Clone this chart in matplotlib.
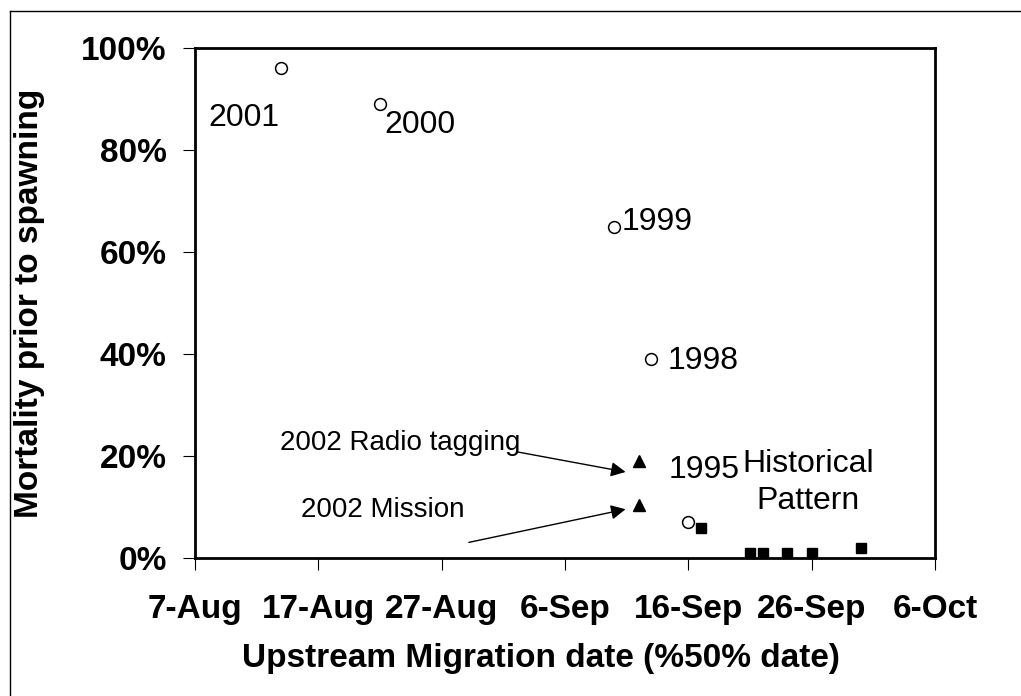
"""Pre-spawn mortality vs upstream migration date (50% date)."""
import pandas as pd
import matplotlib
matplotlib.use("Agg")
import matplotlib.pyplot as plt
from matplotlib.lines import Line2D

plt.rcParams["font.family"] = ["Liberation Sans", "DejaVu Sans"]

YEAR = "2002"

# open circles: individual years
circle_years = ["2001", "2000", "1999", "1998", "1995"]
circle_dates = ["14-Aug", "22-Aug", "10-Sep", "13-Sep", "16-Sep"]
circle_mort = [96, 89, 65, 39, 7]

# filled triangles: 2002 estimates
tri_labels = ["2002 Radio tagging", "2002 Mission"]
tri_dates = ["12-Sep", "12-Sep"]
tri_mort = [19, 10.5]

# filled squares: historical pattern
hist_dates = ["17-Sep", "21-Sep", "22-Sep", "24-Sep", "26-Sep", "30-Sep"]
hist_mort = [6, 1, 1, 1, 1, 2]

tick_dates = ["7-Aug", "17-Aug", "27-Aug", "6-Sep", "16-Sep", "26-Sep", "6-Oct"]
y_ticks = [0, 20, 40, 60, 80, 100]


def to_dt(labels):
    return pd.to_datetime([f"{d}-{YEAR}" for d in labels], format="%d-%b-%Y")


def main():
    fig = plt.figure(figsize=(10.21, 6.96), dpi=100)
    ax = fig.add_axes([0.191, 0.198, 0.725, 0.733])

    cx, tx, hx = to_dt(circle_dates), to_dt(tri_dates), to_dt(hist_dates)
    ax.plot(cx, circle_mort, "o", ls="none", mfc="white", mec="black", ms=8.5, mew=1.1,
            clip_on=False, zorder=3)
    ax.plot(tx, tri_mort, "^", ls="none", color="black", ms=8.5, clip_on=False, zorder=3)
    ax.plot(hx, hist_mort, "s", ls="none", color="black", ms=7, clip_on=False, zorder=3)

    # year labels, offsets in points from their circle
    offsets = {"2001": (-27, -36), "2000": (29, -15), "1999": (31, 3),
               "1998": (37, -1), "1995": (11, 38)}
    for yr, x, y in zip(circle_years, cx, circle_mort):
        ax.annotate(yr, (x, y), xytext=offsets[yr], textcoords="offset points",
                    ha="center", va="center", fontsize=23)

    d0 = pd.Timestamp("2002-08-07")
    day = lambda n: d0 + pd.Timedelta(days=n)

    ax.text(day(49.7), 14.8, "Historical\nPattern", ha="center", va="center",
            fontsize=23, linespacing=1.3)

    # 2002 labels with arrows
    ax.text(day(16.6), 22.5, tri_labels[0], ha="center", va="center", fontsize=20)
    ax.text(day(15.2), 9.4, tri_labels[1], ha="center", va="center", fontsize=20)
    arrow = dict(arrowstyle="-|>", color="black", lw=1, mutation_scale=22,
                 shrinkA=0, shrinkB=0)
    ax.annotate("", xy=(day(34.9), 16.9), xytext=(day(26.2), 20.8), arrowprops=arrow)
    ax.annotate("", xy=(day(34.9), 9.6), xytext=(day(22.2), 3.1), arrowprops=arrow)

    ax.set_xlim(to_dt(["7-Aug"])[0], to_dt(["6-Oct"])[0])
    ax.set_ylim(0, 100)
    ax.set_xticks(to_dt(tick_dates))
    ax.set_xticklabels(tick_dates)
    ax.set_yticks(y_ticks)
    ax.set_yticklabels([f"{v}%" for v in y_ticks])

    for s in ax.spines.values():
        s.set_linewidth(2)
    ax.tick_params(axis="both", direction="out", length=8.5, width=0.8,
                   labelsize=24)
    ax.tick_params(axis="x", pad=17)
    ax.tick_params(axis="y", pad=12)
    for lab in ax.get_xticklabels() + ax.get_yticklabels():
        lab.set_fontweight("bold")

    ax.set_xlabel("Upstream Migration date (%50% date)", fontsize=24,
                  fontweight="bold")
    ax.set_ylabel("Mortality prior to spawning", fontsize=24, fontweight="bold")
    ax.xaxis.set_label_coords(0.468, -0.167)
    ax.yaxis.set_label_coords(-0.203, 0.5)

    # outer frame (only left and top edges visible)
    fig.add_artist(Line2D([10 / 1021, 10 / 1021], [0, 1 - 11 / 696], color="black",
                          lw=1, transform=fig.transFigure))
    fig.add_artist(Line2D([10 / 1021, 1], [1 - 11 / 696, 1 - 11 / 696], color="black",
                          lw=1, transform=fig.transFigure))

    fig.savefig("out.png", dpi=100)


if __name__ == "__main__":
    main()
